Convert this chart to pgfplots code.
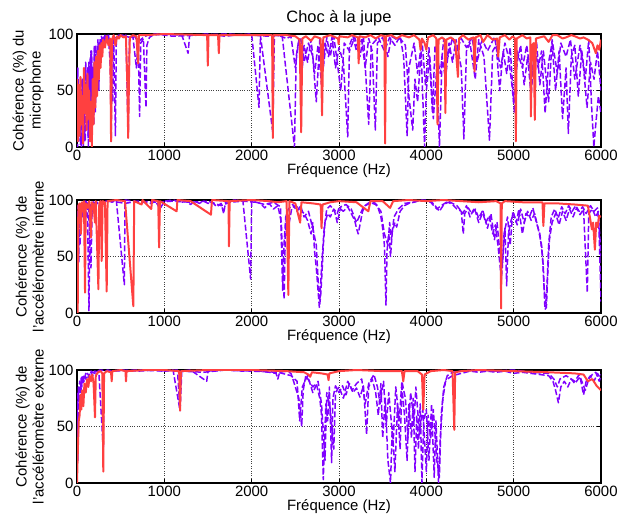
\documentclass[border=0pt]{standalone}
\usepackage{fontspec}
\setmainfont{Liberation Sans}
\usepackage{pgfplots}
\pgfplotsset{compat=1.18}
\definecolor{cred}{RGB}{255,64,64}
\definecolor{cpurple}{RGB}{128,0,255}
\pgfplotsset{
 myax/.style={
  scale only axis, width=524bp, height=113bp,
  xmin=0,xmax=6000, ymin=0,ymax=100,
  xtick={0,1000,...,6000}, ytick={0,50,100},
  grid=major, grid style={dotted, black!75, line width=0.6pt},
  tick align=inside, major tick length=4bp,
  axis line style={line width=1.2pt},
  tick style={black, line width=0.6pt},
  ticklabel style={font=\fontsize{15}{17}\selectfont},
  label style={font=\fontsize{15}{17}\selectfont},
  xlabel={Fréquence (Hz)},
  xlabel style={yshift=4bp},
  ylabel style={align=center, yshift=-2bp},
  /pgf/number format/assume math mode=true,
  /pgf/number format/1000 sep={},
  scaled x ticks=false,
  anchor=south west,
 },
 redline/.style={cred, line width=2pt, line join=round},
 purline/.style={cpurple, line width=1.5pt, dash pattern=on 6pt off 2.5pt, line join=round},
}
\begin{document}
\begin{tikzpicture}
\path[use as bounding box] (0,0) rectangle (618bp,518bp);
% ---------------- Plot 1 ----------------
\begin{axis}[myax, at={(77bp,371bp)},
  title={Choc à la jupe}, title style={font=\fontsize{16.5}{19}\selectfont, yshift=-1bp},
  ylabel={Cohérence (\%) du\\microphone}]
\addplot[purline] coordinates {
(0,40)(8,0)(16,50)(24,10)(32,35)(40,2)(48,60)(56,15)(64,45)(72,0)(80,30)(88,55)(96,5)(104,65)(112,20)(120,70)(128,10)(136,75)(144,30)(152,80)(160,25)(168,85)(176,40)(184,70)(192,20)(200,88)(208,45)(216,90)(224,55)(232,85)(240,60)(248,92)(256,70)(264,95)(272,75)(280,98)(300,88)(320,99)(340,92)(360,100)(380,85)(392,5)(400,90)(420,97)(440,10)(450,95)(480,99)(520,97)(560,99)(586,10)(600,95)(640,98)(680,70)(700,95)(717,27)(730,92)(760,96)(790,35)(800,90)(830,97)(870,99)(1000,100)(1200,99)(1272,83)(1290,99)(1500,100)(1700,98)(1800,99)(2000,100)(2084,35)(2100,99)(2242,13)(2260,99)(2350,98)(2490,0)(2510,80)(2540,95)(2570,60)(2600,90)(2640,75)(2680,95)(2720,65)(2760,90)(2800,55)(2840,92)(2880,80)(2920,97)(2960,70)(3000,88)(3050,75)(3100,9)(3120,90)(3160,98)(3200,85)(3260,95)(3300,70)(3340,96)(3380,85)(3416,15)(3440,92)(3500,97)(3560,80)(3600,98)(3663,95)(3700,96)(3760,90)(3800,45)(3844,15)(3870,60)(3900,40)(3940,85)(3980,0)(4000,50)(4040,80)(4080,25)(4120,70)(4150,0)(4180,80)(4220,60)(4260,92)(4300,75)(4340,95)(4400,70)(4430,7)(4460,85)(4500,92)(4560,60)(4600,95)(4660,80)(4723,6)(4760,85)(4800,90)(4840,50)(4880,85)(4920,65)(4960,88)(5000,40)(5040,75)(5080,90)(5120,55)(5160,80)(5200,45)(5240,90)(5280,70)(5320,85)(5360,30)(5400,75)(5440,92)(5480,50)(5520,85)(5560,25)(5600,70)(5626,12)(5660,80)(5700,90)(5740,45)(5780,85)(5820,60)(5860,95)(5890,40)(5918,0)(5940,20)(5970,45)(6000,30)};
\addplot[purline] coordinates {
(0,20)(10,70)(20,5)(30,50)(40,25)(50,0)(60,60)(70,20)(80,40)(90,5)(100,75)(110,30)(120,55)(130,0)(140,65)(150,35)(160,85)(170,15)(180,70)(190,50)(200,90)(210,30)(220,80)(230,65)(240,95)(250,50)(260,92)(270,80)(280,97)(300,96)(330,100)(360,97)(410,40)(420,96)(460,98)(520,99)(600,97)(650,99)(700,93)(760,97)(810,99)(900,100)(1100,98)(1400,99)(1700,100)(2000,99)(2200,98)(2300,99)(2400,96)(2450,98)(2500,70)(2530,90)(2560,97)(2600,75)(2650,92)(2700,80)(2740,40)(2780,95)(2820,70)(2860,97)(2900,80)(2940,98)(2980,75)(3020,50)(3060,92)(3120,85)(3180,97)(3240,80)(3280,98)(3340,20)(3370,90)(3450,97)(3520,85)(3580,97)(3640,90)(3700,98)(3740,80)(3780,10)(3800,70)(3860,92)(3900,65)(3950,95)(3990,55)(4030,88)(4070,30)(4100,90)(4160,65)(4200,96)(4250,80)(4300,97)(4350,85)(4400,96)(4460,88)(4520,97)(4580,75)(4640,95)(4700,85)(4780,97)(4850,70)(4900,92)(4940,80)(4980,55)(5010,30)(5040,85)(5100,70)(5150,90)(5200,60)(5260,95)(5300,55)(5340,85)(5400,40)(5440,95)(5500,65)(5540,92)(5600,80)(5650,95)(5700,60)(5760,90)(5800,70)(5840,35)(5880,75)(5920,60)(5960,85)(6000,50)};
\addplot[redline] coordinates {
(0,60)(10,5)(20,55)(30,10)(40,62)(50,20)(60,45)(70,3)(80,70)(90,30)(100,55)(110,15)(120,65)(130,25)(140,50)(150,5)(160,40)(170,0)(180,60)(190,20)(200,75)(210,35)(220,80)(230,45)(240,85)(250,60)(260,90)(270,70)(280,92)(290,80)(300,95)(320,88)(340,98)(360,90)(380,96)(390,5)(400,95)(420,99)(440,90)(460,98)(480,96)(500,99)(530,97)(560,98)(575,60)(586,8)(595,60)(605,97)(640,99)(680,98)(700,74)(710,99)(800,99)(1000,100)(1490,99)(1498,72)(1506,99)(1615,99)(1624,83)(1632,99)(2234,99)(2242,8)(2250,99)(2400,99)(2500,98)(2550,95)(2567,13)(2580,96)(2620,98)(2680,94)(2720,98)(2790,96)(2806,28)(2820,97)(2900,99)(2990,96)(2995,91)(3005,98)(3100,97)(3150,99)(3215,97)(3225,74)(3235,98)(3300,97)(3360,99)(3420,96)(3480,99)(3520,98)(3528,3)(3536,98)(3600,99)(3660,96)(3720,99)(3800,97)(3860,99)(3920,95)(3934,86)(3950,96)(3980,92)(4000,86)(4020,97)(4080,99)(4115,96)(4128,20)(4140,95)(4180,97)(4210,95)(4218,30)(4230,95)(4280,97)(4330,94)(4362,62)(4375,96)(4420,99)(4480,95)(4540,97)(4552,67)(4565,97)(4620,99)(4650,93)(4700,99)(4760,95)(4810,96)(4823,80)(4840,97)(4900,99)(4950,95)(4990,98)(5015,96)(5025,5)(5035,96)(5100,99)(5150,96)(5190,97)(5197,27)(5210,90)(5230,92)(5242,24)(5255,96)(5300,97)(5350,98)(5400,93)(5445,99)(5500,99)(5560,96)(5600,97)(5660,99)(5700,98)(5760,96)(5800,97)(5850,95)(5900,92)(5941,83)(5960,90)(5980,86)(6000,95)};
\end{axis}
% ---------------- Plot 2 ----------------
\begin{axis}[myax, at={(77bp,205bp)},
  ylabel={Cohérence (\%) de\\l'accéléromètre interne}]
\addplot[purline] coordinates {
(0,40)(10,95)(20,45)(30,96)(40,88)(50,97)(60,85)(70,98)(80,90)(90,97)(100,85)(110,98)(120,92)(137,2)(150,96)(170,88)(190,99)(210,92)(230,98)(250,94)(270,99)(300,97)(350,100)(400,98)(450,100)(542,25)(550,100)(650,99)(750,98)(850,97)(900,99)(950,92)(1000,99)(1100,100)(1200,98)(1250,99)(1300,96)(1350,99)(1400,97)(1450,99)(1500,97)(1550,98)(1600,94)(1650,97)(1680,88)(1700,98)(1800,100)(1900,99)(1988,30)(2000,99)(2100,97)(2150,93)(2200,97)(2250,92)(2300,95)(2340,80)(2360,30)(2372,12)(2385,70)(2400,88)(2430,80)(2460,93)(2500,95)(2550,92)(2600,88)(2640,82)(2680,70)(2700,80)(2720,55)(2740,40)(2760,20)(2775,5)(2790,15)(2805,35)(2820,60)(2840,80)(2870,88)(2900,85)(2940,92)(2980,88)(3000,93)(3050,90)(3100,94)(3140,88)(3180,82)(3200,75)(3220,70)(3240,78)(3270,90)(3300,95)(3350,97)(3400,98)(3440,95)(3480,85)(3500,75)(3520,60)(3538,7)(3550,55)(3570,70)(3590,50)(3610,72)(3640,80)(3660,76)(3700,90)(3750,95)(3800,97)(3900,99)(4000,100)(4050,99)(4100,95)(4150,90)(4200,96)(4250,98)(4300,96)(4350,92)(4400,90)(4423,70)(4440,88)(4480,93)(4520,88)(4560,92)(4600,84)(4640,90)(4680,80)(4720,86)(4760,70)(4790,78)(4820,60)(4840,45)(4860,30)(4880,55)(4900,75)(4920,24)(4940,70)(4970,82)(5000,88)(5040,78)(5080,92)(5120,80)(5160,90)(5200,82)(5240,88)(5280,75)(5320,60)(5340,40)(5358,3)(5375,5)(5390,35)(5410,65)(5440,80)(5480,88)(5520,78)(5560,90)(5600,82)(5640,92)(5680,85)(5720,93)(5760,87)(5800,92)(5843,18)(5860,88)(5900,92)(5940,85)(5970,90)(5990,40)(6000,10)};
\addplot[purline] coordinates {
(0,90)(10,30)(20,97)(35,60)(50,98)(80,94)(100,99)(130,96)(160,40)(175,98)(220,97)(260,99)(300,98)(400,99)(550,97)(700,99)(900,98)(1100,99)(1300,98)(1500,99)(1650,95)(1750,98)(1900,99)(2050,98)(2150,96)(2250,98)(2330,94)(2355,20)(2370,60)(2390,85)(2420,92)(2470,96)(2520,90)(2560,95)(2600,85)(2650,90)(2700,75)(2740,60)(2760,30)(2780,10)(2800,40)(2830,75)(2860,92)(2900,95)(2950,90)(2980,80)(3020,94)(3080,96)(3140,92)(3200,80)(3230,85)(3280,94)(3350,98)(3420,96)(3480,90)(3520,70)(3560,60)(3580,80)(3600,65)(3630,85)(3680,92)(3750,97)(3850,98)(3950,100)(4050,98)(4120,92)(4170,95)(4250,99)(4350,95)(4420,88)(4460,95)(4500,85)(4550,93)(4600,80)(4650,90)(4700,75)(4740,88)(4780,65)(4810,80)(4840,55)(4870,40)(4890,70)(4930,85)(4960,60)(4990,90)(5030,80)(5060,92)(5100,70)(5140,88)(5180,85)(5220,93)(5260,80)(5300,70)(5330,50)(5350,20)(5370,8)(5385,30)(5400,60)(5430,85)(5470,92)(5510,84)(5550,94)(5590,88)(5630,95)(5670,90)(5710,95)(5750,90)(5790,94)(5830,88)(5880,95)(5920,90)(5960,93)(5985,70)(6000,50)};
\addplot[redline] coordinates {
(0,0)(8,0)(15,95)(30,97)(45,70)(55,98)(70,90)(80,99)(92,18)(100,97)(120,93)(140,99)(160,67)(170,98)(190,96)(205,80)(215,99)(245,21)(255,97)(270,99)(283,46)(293,99)(320,98)(340,19)(350,99)(450,100)(550,99)(645,6)(655,99)(740,96)(750,100)(850,92)(860,100)(930,99)(940,58)(950,99)(1141,90)(1150,100)(1300,99)(1534,87)(1545,100)(1735,99)(1740,59)(1748,99)(2000,100)(2200,99)(2300,98)(2400,99)(2420,16)(2432,99)(2500,97)(2555,80)(2570,98)(2700,97)(2790,96)(2800,75)(2812,96)(2900,98)(3000,99)(3200,98)(3336,90)(3360,99)(3500,99)(3585,93)(3620,99)(3800,100)(4000,99)(4200,100)(4400,99)(4600,98)(4800,99)(4850,97)(4856,4)(4864,97)(4900,99)(5100,98)(5330,98)(5340,77)(5352,97)(5500,97)(5700,96)(5850,95)(5896,74)(5910,80)(5930,56)(5945,80)(5960,76)(5980,86)(6000,85)};
\end{axis}
% ---------------- Plot 3 ----------------
\begin{axis}[myax, at={(77bp,35bp)},
  ylabel={Cohérence (\%) de\\l'accéléromètre externe}]
\addplot[purline] coordinates {
(0,5)(8,60)(16,85)(24,70)(32,90)(40,80)(48,93)(56,85)(64,95)(72,88)(80,96)(100,92)(120,97)(140,94)(160,98)(180,95)(200,99)(250,98)(301,30)(310,98)(350,100)(400,99)(500,100)(700,99)(900,100)(1000,99)(1100,100)(1180,64)(1200,99)(1300,100)(1485,90)(1500,99)(1700,100)(1900,99)(2000,100)(2100,99)(2200,98)(2280,97)(2300,92)(2320,98)(2400,99)(2450,97)(2480,90)(2500,85)(2520,80)(2540,75)(2560,60)(2573,50)(2590,82)(2620,95)(2660,90)(2700,85)(2740,88)(2780,75)(2800,60)(2820,3)(2835,40)(2850,70)(2870,55)(2890,85)(2916,18)(2930,75)(2960,86)(3000,80)(3040,86)(3080,78)(3120,88)(3160,80)(3200,84)(3240,76)(3280,86)(3316,43)(3340,85)(3380,92)(3420,80)(3450,60)(3480,88)(3500,40)(3530,75)(3560,20)(3590,0)(3610,50)(3640,10)(3670,70)(3700,30)(3720,85)(3750,60)(3780,20)(3800,70)(3830,40)(3850,75)(3870,10)(3890,60)(3910,30)(3930,70)(3950,0)(3970,55)(4000,65)(4030,20)(4060,70)(4090,5)(4110,55)(4140,0)(4160,40)(4190,75)(4220,90)(4260,93)(4300,95)(4400,97)(4500,99)(4600,98)(4700,99)(4800,98)(4900,99)(5000,97)(5100,98)(5200,97)(5300,96)(5400,95)(5450,90)(5480,82)(5512,71)(5540,85)(5580,90)(5620,85)(5660,92)(5700,88)(5760,94)(5800,78)(5830,90)(5880,95)(5920,90)(5960,97)(6000,92)};
\addplot[purline] coordinates {
(0,80)(10,20)(20,75)(30,90)(45,82)(60,94)(80,90)(100,97)(130,93)(160,99)(200,97)(260,100)(400,99)(700,100)(1000,99)(1150,100)(1175,70)(1190,99)(1450,98)(1700,100)(2000,99)(2300,98)(2450,95)(2520,90)(2550,55)(2580,85)(2640,95)(2700,80)(2760,90)(2800,70)(2840,20)(2860,80)(2900,65)(2940,30)(2960,80)(3000,85)(3050,75)(3100,90)(3150,82)(3200,88)(3260,92)(3300,70)(3340,88)(3400,96)(3440,85)(3470,70)(3510,90)(3540,50)(3570,80)(3620,35)(3650,85)(3690,55)(3720,90)(3760,75)(3790,40)(3820,80)(3860,55)(3880,85)(3920,45)(3960,65)(4000,10)(4020,60)(4050,40)(4080,65)(4120,20)(4150,5)(4170,60)(4200,85)(4240,95)(4300,98)(4400,99)(4600,100)(4800,99)(5000,100)(5200,98)(5400,97)(5460,92)(5500,85)(5530,92)(5600,95)(5700,90)(5750,96)(5820,82)(5860,92)(5900,96)(5940,98)(5980,90)(6000,96)};
\addplot[redline] coordinates {
(0,0)(10,30)(20,55)(30,60)(40,78)(50,65)(60,82)(73,68)(85,88)(100,80)(115,92)(130,85)(145,95)(160,90)(175,96)(190,88)(206,58)(215,95)(240,98)(270,99)(290,97)(301,10)(310,97)(340,99)(390,98)(397,90)(405,99)(500,100)(555,99)(561,90)(568,99)(800,100)(1000,100)(1170,99)(1180,64)(1190,99)(1500,100)(2000,100)(2400,99)(2600,98)(2650,96)(2670,94)(2690,98)(2800,97)(2870,96)(2880,91)(2890,97)(3000,99)(3200,100)(3500,99)(3720,99)(3736,90)(3750,99)(3900,99)(3950,96)(3965,65)(3980,96)(4050,99)(4200,100)(4300,99)(4320,47)(4330,98)(4400,99)(4600,100)(5000,99)(5400,98)(5700,97)(5800,96)(5850,90)(5900,92)(5950,86)(6000,82)};
\end{axis}
\end{tikzpicture}
\end{document}
